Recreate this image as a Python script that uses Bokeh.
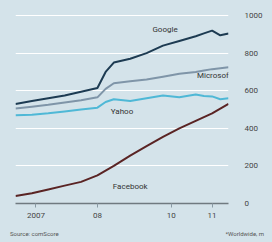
from bokeh.plotting import figure
from bokeh.models import Range1d, LinearAxis, FixedTicker, ColumnDataSource, Div
from bokeh.layouts import column
from bokeh.embed import file_html
from bokeh.resources import INLINE
from bokeh.core.properties import value

months = [0, 4, 8, 12, 16, 20, 22, 24, 28, 32, 36, 40, 44, 46, 48, 50, 52]
google = [530, 545, 560, 575, 595, 615, 700, 750, 770, 800, 840, 865, 890, 905, 920, 895, 905]
microsoft = [505, 515, 525, 538, 550, 565, 610, 640, 650, 660, 675, 690, 700, 708, 715, 720, 725]
yahoo = [470, 472, 480, 490, 500, 510, 540, 555, 545, 560, 575, 565, 580, 572, 570, 555, 560]
facebook = [40, 55, 75, 95, 115, 150, 175, 200, 255, 305, 355, 400, 440, 460, 480, 505, 530]

series_names = ["Google", "Microsoft", "Yahoo", "Facebook"]
series_colors = ["#1d3b52", "#7f95a8", "#4fb8d6", "#5a2424"]
label_x = [36.5, 48.5, 26, 28]
label_y = [925, 680, 490, 90]

y_ticks = [0, 200, 400, 600, 800, 1000]
x_ticks = [5, 20, 38, 48]
x_labels = ["2007", "08", "10", "11"]

BG = "#d4e3ea"

p = figure(width=272, height=224, frame_width=213, frame_height=193,
           min_border_left=15, min_border_top=10, min_border_right=44, min_border_bottom=21,
           x_range=Range1d(0, 52), y_range=Range1d(0, 1027),
           output_backend="svg", toolbar_location=None,
           background_fill_color=BG, border_fill_color=BG, outline_line_color=None)

p.yaxis.visible = False
p.xaxis.axis_line_color = "#707a80"
p.xaxis.axis_line_width = 1.5
p.xaxis.ticker = FixedTicker(ticks=x_ticks)
p.xaxis.major_label_overrides = {t: l for t, l in zip(x_ticks, x_labels)}
p.xaxis.major_tick_line_color = "#8a9aa4"
p.xaxis.major_tick_in = 0
p.xaxis.major_tick_out = 4
p.xaxis.minor_tick_line_color = None
p.xaxis.major_label_text_font = "Roboto"
p.xaxis.major_label_text_font_size = "8px"
p.xaxis.major_label_text_color = "#444444"

ry = LinearAxis(ticker=FixedTicker(ticks=y_ticks))
ry.axis_line_color = None
ry.major_tick_line_color = None
ry.minor_tick_line_color = None
ry.major_label_text_font = "Roboto"
ry.major_label_text_font_size = "8px"
ry.major_label_text_color = "#444444"
ry.major_label_standoff = 10
p.add_layout(ry, "right")

p.xgrid.grid_line_color = None
p.ygrid.ticker = FixedTicker(ticks=[200, 400, 600, 800, 1000])
p.ygrid.grid_line_color = "#ffffff"
p.ygrid.grid_line_width = 1

for vals, col in zip([facebook, yahoo, microsoft, google], [series_colors[3], series_colors[2], series_colors[1], series_colors[0]]):
    p.line(months, vals, line_color=col, line_width=2)

src = ColumnDataSource(dict(x=label_x, y=label_y, t=series_names))
p.text(x="x", y="y", text="t", source=src, text_font=value("Roboto"),
       text_font_size="8px", text_color="#333333", text_align="center", text_baseline="middle")

foot = Div(width=272, height=16, margin=0, styles={"background": BG},
           text=("<div style='display:flex;justify-content:space-between;width:254px;"
                 "margin:0 0 0 10px;padding:0;font-family:Roboto;font-size:6px;color:#555;line-height:10px'>"
                 "<span>Source: comScore</span><span>*Worldwide, m</span></div>"))

layout = column(p, foot, spacing=0, styles={"background": BG})

tmpl = "{% block preamble %}<style>html,body{background:" + BG + ";}</style>{% endblock %}"
open("out.html", "w").write(file_html(layout, INLINE, template=tmpl))
